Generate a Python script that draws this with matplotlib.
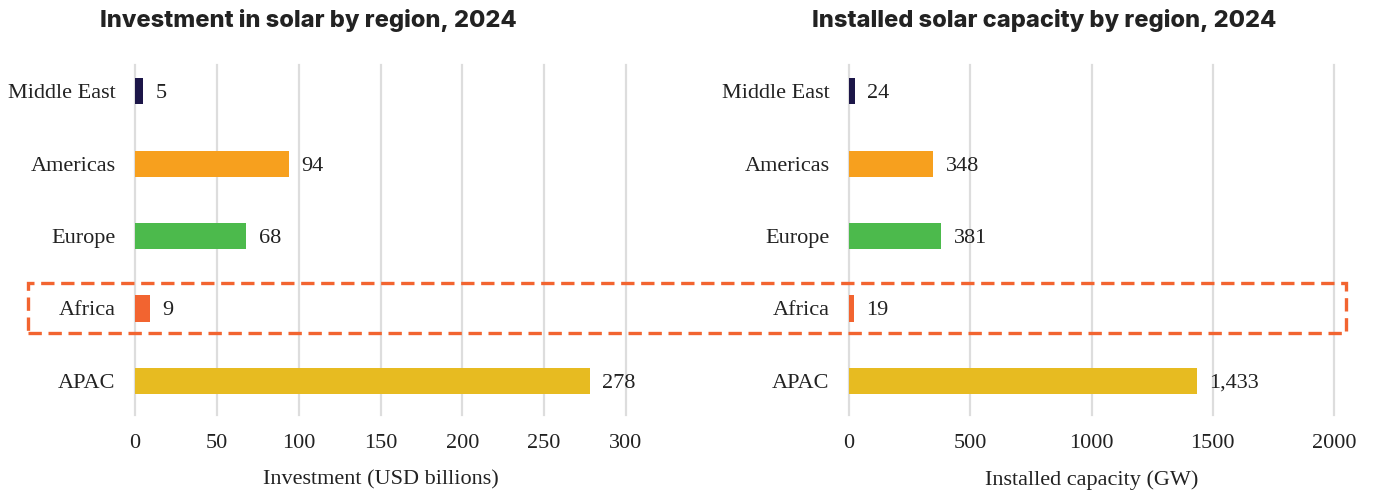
import matplotlib.pyplot as plt
from matplotlib.patches import Rectangle

regions = ["Middle East", "Americas", "Europe", "Africa", "APAC"]
investment = [5, 94, 68, 9, 278]          # USD billions
capacity = [24, 348, 381, 19, 1433]       # GW
bar_colors = ["#1c1648", "#f7a01e", "#4cba4c", "#f26430", "#e7bb21"]

inv_ticks = [0, 50, 100, 150, 200, 250, 300]
cap_ticks = [0, 500, 1000, 1500, 2000]

serif = "Liberation Serif"
fs = 16
fig = plt.figure(figsize=(13.74, 4.94), dpi=100)

ax1 = fig.add_axes([135/1374, 1-415/494, 491/1374, 350/494])
ax2 = fig.add_axes([849/1374, 1-415/494, 485/1374, 350/494])


def draw(ax, vals, ticks, xlabel, fmt):
    ypos = list(range(len(regions)))
    ax.barh(ypos, vals, height=0.36, color=bar_colors, zorder=3)
    ax.set_ylim(4.47, -0.36)
    ax.set_xlim(ticks[0], ticks[-1])
    ax.set_xticks(ticks)
    ax.set_xticklabels([str(t) for t in ticks], fontfamily=serif, fontsize=fs, color="#222222")
    ax.set_yticks(ypos)
    ax.set_yticklabels(regions, fontfamily=serif, fontsize=fs, color="#222222")
    ax.tick_params(axis="both", length=0)
    ax.tick_params(axis="x", pad=14)
    ax.tick_params(axis="y", pad=14)
    ax.grid(axis="x", color="#dddddd", linewidth=1.6, zorder=0)
    for s in ax.spines.values():
        s.set_visible(False)
    ax.set_xlabel(xlabel, fontfamily=serif, fontsize=fs, color="#222222", labelpad=12)
    for i, v in enumerate(vals):
        ax.annotate(fmt(v), (v, i), xytext=(9, 0), textcoords="offset points",
                    va="center_baseline", ha="left", fontfamily=serif, fontsize=fs,
                    color="#222222")
    for gl in ax.get_xgridlines():
        gl.set_clip_on(False)


draw(ax1, investment, inv_ticks, "Investment (USD billions)", lambda v: f"{v:,}")
draw(ax2, capacity, cap_ticks, "Installed capacity (GW)", lambda v: f"{v:,}")

fig.text(100/1374, 1-20/494, "Investment in solar by region, 2024", fontfamily="Inter",
         fontweight="heavy", fontsize=17, color="#222222", va="center", ha="left")
fig.text(812/1374, 1-20/494, "Installed solar capacity by region, 2024", fontfamily="Inter",
         fontweight="heavy", fontsize=17, color="#222222", va="center", ha="left")

# dashed highlight around the Africa row
box = Rectangle((28/1374, 1-333/494), (1346-28)/1374, 50/494, transform=fig.transFigure,
                fill=False, edgecolor="#f26430", linewidth=2.4, linestyle=(0, (4, 2)),
                zorder=10, clip_on=False)
fig.patches.append(box)

fig.savefig("out.png", dpi=100)
